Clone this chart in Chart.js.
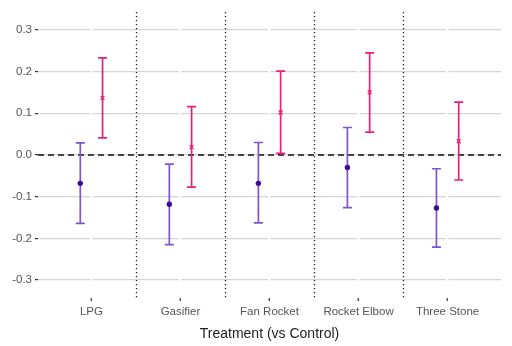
<!DOCTYPE html>
<html>
<head>
<meta charset="utf-8">
<script src="https://cdn.jsdelivr.net/npm/chart.js@4"></script>
<style>
  html, body { margin: 0; padding: 0; background: #fff; }
  #wrap { width: 512px; height: 346px; }
</style>
</head>
<body>
<div id="wrap"><canvas id="chart" width="512" height="346"></canvas></div>
<script>
// categories and estimates
var treatments = ['LPG', 'Gasifier', 'Fan Rocket', 'Rocket Elbow', 'Three Stone'];
var yTicks = [-0.3, -0.2, -0.1, 0.0, 0.1, 0.2, 0.3];

// purple series (dots)
var purpleEst   = [-0.068, -0.118, -0.068, -0.030, -0.127];
var purpleLower = [-0.164, -0.215, -0.163, -0.126, -0.221];
var purpleUpper = [ 0.029, -0.022,  0.030,  0.066, -0.033];

// pink series (crosses)
var pinkEst   = [0.137, 0.019, 0.102, 0.150, 0.033];
var pinkLower = [0.041, -0.077, 0.004, 0.055, -0.060];
var pinkUpper = [0.233, 0.116, 0.201, 0.245, 0.127];

var dodge = 0.125;

function makePoints(est, lower, upper, shift) {
    var pts = [];
    for (var i = 0; i < est.length; i++) {
        pts.push({ x: i + 1 + shift, y: est[i], lo: lower[i], hi: upper[i] });
    }
    return pts;
}

// error bars, category separators and the zero line
var errorBarPlugin = {
    id: 'errorBars',
    beforeDatasetsDraw: function(chart) {
        var ctx = chart.ctx;
        var xs = chart.scales.x;
        var ys = chart.scales.y;
        var area = chart.chartArea;
        ctx.save();
        // dotted separators between treatments
        ctx.strokeStyle = '#222';
        ctx.lineWidth = 1.3;
        ctx.setLineDash([1.3, 2.7]);
        for (var k = 1; k < treatments.length; k++) {
            var px = Math.round(xs.getPixelForValue(k + 0.5)) + 0.5;
            ctx.beginPath();
            ctx.moveTo(px, area.top);
            ctx.lineTo(px, area.bottom);
            ctx.stroke();
        }
        // dashed zero line
        ctx.setLineDash([6, 4]);
        ctx.lineWidth = 1.4;
        ctx.strokeStyle = '#111';
        var zy = ys.getPixelForValue(0);
        ctx.beginPath();
        ctx.moveTo(area.left, zy);
        ctx.lineTo(area.right, zy);
        ctx.stroke();
        ctx.setLineDash([]);

        chart.data.datasets.forEach(function(ds) {
            ctx.strokeStyle = ds.barColor;
            ctx.lineWidth = 1.7;
            ds.data.forEach(function(p) {
                var x = xs.getPixelForValue(p.x);
                var yl = ys.getPixelForValue(p.lo);
                var yh = ys.getPixelForValue(p.hi);
                var cap = 4.5;
                ctx.beginPath();
                ctx.moveTo(x, yl);
                ctx.lineTo(x, yh);
                ctx.moveTo(x - cap, yl);
                ctx.lineTo(x + cap, yl);
                ctx.moveTo(x - cap, yh);
                ctx.lineTo(x + cap, yh);
                ctx.stroke();
            });
        });
        ctx.restore();
    }
};

var ctx = document.getElementById('chart').getContext('2d');
var chart = new Chart(ctx, {
    type: 'scatter',
    data: {
        datasets: [
            {
                label: 'purple',
                data: makePoints(purpleEst, purpleLower, purpleUpper, -dodge),
                barColor: '#7d55cc',
                backgroundColor: '#3b0d96',
                borderColor: '#3b0d96',
                pointStyle: 'circle',
                pointRadius: 2.7,
                borderWidth: 0
            },
            {
                label: 'pink',
                data: makePoints(pinkEst, pinkLower, pinkUpper, dodge),
                barColor: '#e6217a',
                backgroundColor: '#e6217a',
                borderColor: '#e6217a',
                pointStyle: 'crossRot',
                pointRadius: 2.8,
                borderWidth: 1.2
            }
        ]
    },
    options: {
        responsive: false,
        animation: false,
        layout: { padding: { top: 12, right: 11, left: 0, bottom: 0 } },
        plugins: {
            legend: { display: false },
            tooltip: { enabled: false }
        },
        scales: {
            x: {
                type: 'linear',
                min: 0.4,
                max: 5.6,
                afterBuildTicks: function(scale) {
                    scale.ticks = treatments.map(function(t, i) { return { value: i + 1 }; });
                },
                afterFit: function(scale) { scale.height = 48; },
                grid: {
                    z: -1,
                    color: '#ffffff',
                    lineWidth: 2.5,
                    drawTicks: true,
                    tickLength: 3,
                    tickColor: '#333',
                    tickWidth: 1.2
                },
                border: { display: false },
                ticks: {
                    autoSkip: false,
                    maxRotation: 0,
                    padding: 4,
                    color: '#555',
                    font: { family: 'Liberation Sans', size: 11.5 },
                    callback: function(v) { return treatments[Math.round(v) - 1]; }
                },
                title: {
                    display: true,
                    text: 'Treatment (vs Control)',
                    color: '#222',
                    padding: { top: 4, bottom: 3 },
                    font: { family: 'Liberation Sans', size: 14 }
                }
            },
            y: {
                min: -0.343,
                max: 0.343,
                afterBuildTicks: function(scale) {
                    scale.ticks = yTicks.map(function(v) { return { value: v }; });
                },
                afterFit: function(scale) { scale.width = 38; },
                grid: {
                    z: -2,
                    color: '#d4d4d4',
                    lineWidth: 1.2,
                    drawTicks: true,
                    tickLength: 3,
                    tickColor: '#333',
                    tickWidth: 1.2
                },
                border: { display: false },
                ticks: {
                    padding: 3,
                    color: '#555',
                    font: { family: 'Liberation Sans', size: 11.5 },
                    callback: function(v) { return v.toFixed(1); }
                }
            }
        }
    },
    plugins: [errorBarPlugin]
});
</script>
</body>
</html>
